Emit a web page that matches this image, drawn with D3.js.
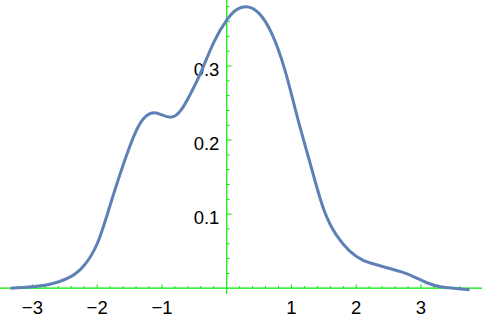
<!DOCTYPE html>
<html><head><meta charset="utf-8">
<script src="https://cdn.jsdelivr.net/npm/d3@7"></script>
<style>body{margin:0;background:#fff}svg{display:block}</style>
</head><body>
<script>
const xValues = [-3.34,-3.0,-2.7,-2.4,-2.2,-2.0,-1.8,-1.6,-1.4,-1.25,-1.12,-1.0,-0.85,-0.7,-0.55,-0.4,-0.2,0.0,0.15,0.31,0.5,0.7,0.9,1.1,1.3,1.5,1.7,1.9,2.1,2.3,2.5,2.7,2.9,3.1,3.3,3.5,3.75];
const densityValues = [0.0,0.002,0.006,0.016,0.031,0.06,0.112,0.166,0.212,0.232,0.237,0.234,0.231,0.241,0.264,0.291,0.332,0.362,0.376,0.380,0.371,0.343,0.294,0.228,0.165,0.106,0.071,0.050,0.038,0.032,0.027,0.022,0.015,0.007,0.002,0.0,-0.002];
const xTickLabels = [-3,-2,-1,1,2,3];
const yTickLabels = [0.1,0.2,0.3];

const W=482,H=321;
const svg=d3.select("body").append("svg").attr("width",W).attr("height",H);
const x=d3.scaleLinear().domain([-3,3]).range([32.4,421.0]);
const y=d3.scaleLinear().domain([0,0.3]).range([288.2,66]);
const green="#00ee00";

svg.append("line").attr("x1",0).attr("x2",W).attr("y1",y(0)).attr("y2",y(0)).attr("stroke",green).attr("stroke-width",1.2);
svg.append("line").attr("x1",x(0)).attr("x2",x(0)).attr("y1",0).attr("y2",294).attr("stroke",green).attr("stroke-width",1.2);

const xMinor=d3.range(-16,19).map(i=>i*0.2).filter(v=>Math.abs(v)>1e-9);
xMinor.forEach(v=>{
  const major=Math.abs(v-Math.round(v))<1e-9;
  svg.append("line").attr("x1",x(v)).attr("x2",x(v)).attr("y1",y(0)).attr("y2",y(0)-(major?4:2.2))
    .attr("stroke",green).attr("stroke-width",1);
});
d3.range(1,20).map(i=>i*0.02).forEach(v=>{
  const major=Math.abs(v*10-Math.round(v*10))<1e-9;
  svg.append("line").attr("x1",x(0)).attr("x2",x(0)+(major?5:3)).attr("y1",y(v)).attr("y2",y(v))
    .attr("stroke",green).attr("stroke-width",1);
});

const font="'Liberation Sans', Arial, sans-serif";
svg.selectAll("text.xl").data(xTickLabels).enter().append("text")
  .attr("x",d=>x(d)).attr("y",314).attr("text-anchor","middle")
  .attr("font-family",font).attr("font-size",18.5).attr("fill","#000")
  .text(d=>d<0?"\u2212"+Math.abs(d):String(d));
svg.selectAll("text.yl").data(yTickLabels).enter().append("text")
  .attr("x",x(0)-7.3).attr("y",d=>y(d)+10).attr("text-anchor","end")
  .attr("font-family",font).attr("font-size",18.5).attr("fill","#000")
  .text(d=>d.toFixed(1));

const pts=xValues.map((v,i)=>[v,densityValues[i]]);
const line=d3.line().x(d=>x(d[0])).y(d=>y(d[1])).curve(d3.curveNatural);
svg.append("path").datum(pts).attr("d",line).attr("fill","none")
  .attr("stroke","#5e81b5").attr("stroke-width",3).attr("stroke-linejoin","round");
</script>
</body></html>
